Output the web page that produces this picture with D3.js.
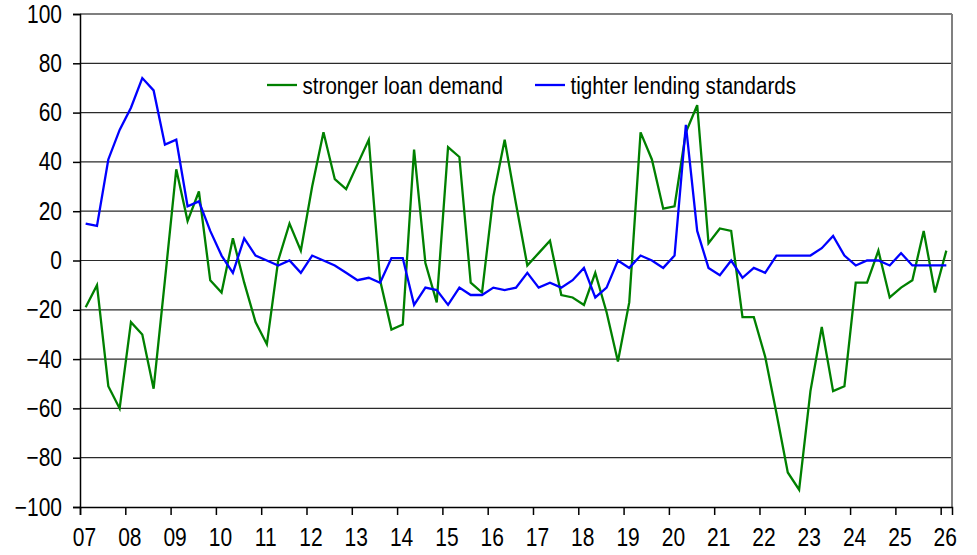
<!DOCTYPE html>
<html>
<head>
<meta charset="utf-8">
<script src="https://cdn.jsdelivr.net/npm/d3@7"></script>
<style>
  body { margin: 0; background: #fff; }
  text { font-family: "Liberation Sans", Arial, sans-serif; fill: #000; }
</style>
</head>
<body>
<div id="chart"></div>
<script>
// quarterly survey balances, 2007Q1 .. 2026Q1
const firstYear = 2007;
const yearLabels = ["07","08","09","10","11","12","13","14","15","16","17","18","19","20","21","22","23","24","25","26"];
const yTicks = [-100, -80, -60, -40, -20, 0, 20, 40, 60, 80, 100];
const seriesNames = ["stronger loan demand", "tighter lending standards"];
const seriesColors = ["#008000", "#0000ff"];

const loanDemand = [
  -19, -10, -51, -60, -25, -30, -52, -8,
  37, 16, 28, -8, -13, 9, -9, -25,
  -34, 0, 15, 4, 30, 52, 33, 29,
  39, 49, -8, -28, -26, 45, -1, -17,
  46, 42, -9, -13, 26, 49, 23, -2,
  3, 8, -14, -15, -18, -5, -21, -41,
  -17, 52, 41, 21, 22, 52, 63, 7,
  13, 12, -23, -23, -39, -62, -86, -93,
  -53, -27, -53, -51, -9, -9, 4, -15,
  -11, -8, 12, -13, 4
];
const lendingStandards = [
  15, 14, 41, 53, 62, 74, 69, 47,
  49, 22, 24, 12, 2, -5, 9, 2,
  0, -2, 0, -5, 2, 0, -2, -5,
  -8, -7, -9, 1, 1, -18, -11, -12,
  -18, -11, -14, -14, -11, -12, -11, -5,
  -11, -9, -11, -8, -3, -15, -11, 0,
  -3, 2, 0, -3, 2, 55, 12, -3,
  -6, 0, -7, -3, -5, 2, 2, 2,
  2, 5, 10, 2, -2, 0, 0, -2,
  3, -2, -2, -2, -2
];

const width = 977, height = 555;
const plotLeft = 80, plotRight = 952, plotTop = 14, plotBottom = 507;

const svg = d3.select("#chart").append("svg")
    .attr("width", width)
    .attr("height", height);

const x = d3.scaleLinear().domain([firstYear, 2026.25]).range([plotLeft, plotRight]);
const y = d3.scaleLinear().domain([-100, 100]).range([plotBottom, plotTop]);

// each quarter sits in the middle of its slot
const xOf = (d, i) => x(firstYear + i * 0.25 + 0.125);

// horizontal gridlines
svg.append("g")
    .selectAll("line")
    .data(yTicks.filter(v => v > -100))
    .enter()
    .append("line")
    .attr("x1", plotLeft).attr("x2", plotRight)
    .attr("y1", d => y(d)).attr("y2", d => y(d))
    .attr("stroke", d => d === 100 ? "#000" : "#2a2a2a")
    .attr("stroke-width", 1.2);

// right border
svg.append("line")
    .attr("x1", plotRight).attr("x2", plotRight)
    .attr("y1", plotTop).attr("y2", plotBottom)
    .attr("stroke", "#808080")
    .attr("stroke-width", 2);

const yAxis = svg.append("g")
    .attr("transform", `translate(${plotLeft},0)`)
    .call(d3.axisLeft(y).tickValues(yTicks).tickSize(7).tickPadding(11));
yAxis.selectAll("text")
    .style("font-size", "21px")
    .attr("transform", "scale(1,1.2)");

const xAxis = svg.append("g")
    .attr("transform", `translate(0,${plotBottom})`)
    .call(d3.axisBottom(x)
        .tickValues(d3.range(yearLabels.length).map(i => firstYear + i))
        .tickFormat((d, i) => yearLabels[i])
        .tickSize(8));
xAxis.selectAll("text")
    .style("font-size", "21px")
    .attr("y", 0)
    .attr("transform", "translate(4,21) scale(1,1.2)");

svg.selectAll(".domain, .tick line")
    .attr("stroke", "#000")
    .attr("stroke-width", 1.5);

const line = d3.line()
    .x(xOf)
    .y(d => y(d));

[loanDemand, lendingStandards].forEach((values, k) => {
    svg.append("path")
        .datum(values)
        .attr("fill", "none")
        .attr("stroke", seriesColors[k])
        .attr("stroke-width", 2.3)
        .attr("stroke-linejoin", "miter")
        .attr("d", line);
});

// legend
const legendX = [267, 535];
const legendY = 85;
seriesNames.forEach((name, k) => {
    svg.append("line")
        .attr("x1", legendX[k]).attr("x2", legendX[k] + 30)
        .attr("y1", legendY).attr("y2", legendY)
        .attr("stroke", seriesColors[k])
        .attr("stroke-width", 2.3);
    svg.append("text")
        .attr("transform", `translate(${legendX[k] + 35.5},${legendY}) scale(1,1.2)`)
        .attr("dy", "0.35em")
        .style("font-size", "20.6px")
        .text(name);
});
</script>
</body>
</html>
